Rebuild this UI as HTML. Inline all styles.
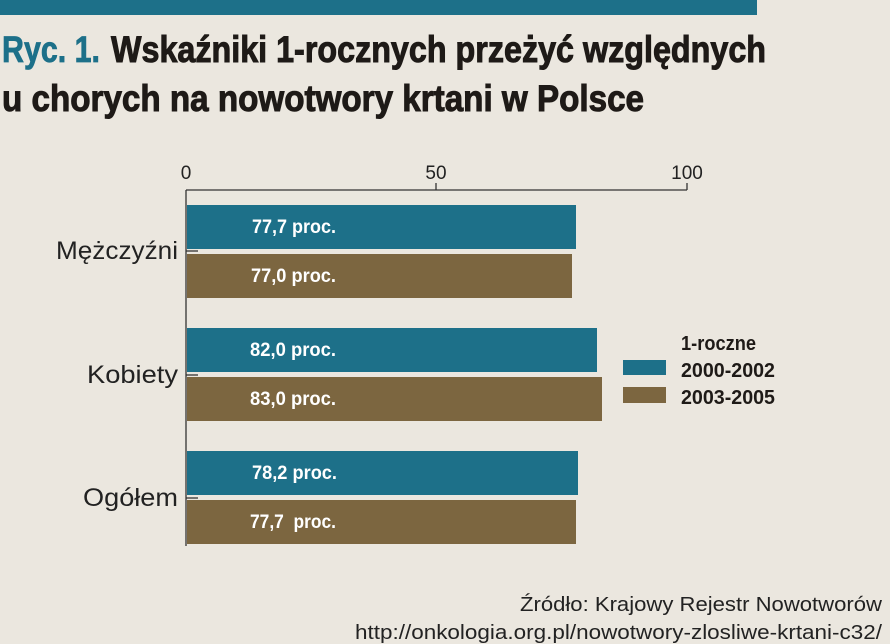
<!DOCTYPE html>
<html><head><meta charset="utf-8"><style>
html,body{margin:0;padding:0;background:#ebe7df;}
svg{display:block}
.t{font-family:"Liberation Sans Narrow","Liberation Sans",sans-serif;font-weight:bold}
.n{font-family:"Liberation Sans",sans-serif}
</style></head><body>
<svg width="890" height="644" viewBox="0 0 890 644">
<rect width="890" height="644" fill="#ebe7df"/>
<rect x="0" y="0" width="757" height="15" fill="#1d7089"/>
<text class="t" x="2" y="62" font-size="37" fill="#1d7089" stroke="#1d7089" stroke-width="0.8" textLength="98" lengthAdjust="spacingAndGlyphs">Ryc. 1.</text>
<text class="t" x="111" y="62" font-size="37" fill="#1e1a17" stroke="#1e1a17" stroke-width="1" textLength="655" lengthAdjust="spacingAndGlyphs">Wskaźniki 1-rocznych przeżyć względnych</text>
<text class="t" x="2" y="111" font-size="37" fill="#1e1a17" stroke="#1e1a17" stroke-width="1" textLength="642" lengthAdjust="spacingAndGlyphs">u chorych na nowotwory krtani w Polsce</text>
<g class="n" font-size="19" fill="#222" text-anchor="middle">
<text x="186" y="179">0</text><text x="436" y="179">50</text><text x="687" y="179">100</text>
</g>
<g stroke="#333" stroke-width="1.3" fill="none">
<line x1="186" y1="190" x2="687" y2="190"/>
<line x1="186" y1="190" x2="186" y2="546"/>
<line x1="436" y1="183" x2="436" y2="190"/>
<line x1="687" y1="183" x2="687" y2="190"/>
<line x1="186" y1="251" x2="198" y2="251"/>
<line x1="186" y1="375" x2="198" y2="375"/>
<line x1="186" y1="498" x2="198" y2="498"/>
</g>
<g fill="#1d7089">
<rect x="187" y="205" width="389" height="44"/>
<rect x="187" y="328" width="410" height="44"/>
<rect x="187" y="451" width="391" height="44"/>
<rect x="623" y="360" width="43" height="15"/>
</g>
<g fill="#7c6640">
<rect x="187" y="254" width="385" height="44"/>
<rect x="187" y="377" width="415" height="44"/>
<rect x="187" y="500" width="389" height="44"/>
<rect x="623" y="387" width="43" height="16"/>
</g>
<g class="t" font-size="19" fill="#fff">
<text x="252" y="233" textLength="84" lengthAdjust="spacingAndGlyphs">77,7 proc.</text>
<text x="251" y="282" textLength="85" lengthAdjust="spacingAndGlyphs">77,0 proc.</text>
<text x="250" y="356" textLength="86" lengthAdjust="spacingAndGlyphs">82,0 proc.</text>
<text x="250" y="405" textLength="86" lengthAdjust="spacingAndGlyphs">83,0 proc.</text>
<text x="252" y="479" textLength="85" lengthAdjust="spacingAndGlyphs">78,2 proc.</text>
<text x="250" y="528" textLength="86" lengthAdjust="spacingAndGlyphs">77,7&#160; proc.</text>
</g>
<g class="n" font-size="25" fill="#222">
<text x="56" y="259" textLength="122" lengthAdjust="spacingAndGlyphs">Mężczyźni</text>
<text x="87" y="383" textLength="91" lengthAdjust="spacingAndGlyphs">Kobiety</text>
<text x="83" y="506" textLength="95" lengthAdjust="spacingAndGlyphs">Ogółem</text>
</g>
<g class="t" font-size="20" fill="#1e1a17">
<text x="681" y="350" textLength="75" lengthAdjust="spacingAndGlyphs">1-roczne</text>
<text x="681" y="377" textLength="94" lengthAdjust="spacingAndGlyphs">2000-2002</text>
<text x="681" y="404" textLength="94" lengthAdjust="spacingAndGlyphs">2003-2005</text>
</g>
<g class="n" font-size="20" fill="#222">
<text x="520" y="611" textLength="362" lengthAdjust="spacingAndGlyphs">Źródło: Krajowy Rejestr Nowotworów</text>
<text x="355" y="639" textLength="527" lengthAdjust="spacingAndGlyphs">http://onkologia.org.pl/nowotwory-zlosliwe-krtani-c32/</text>
</g>
</svg>
</body></html>
